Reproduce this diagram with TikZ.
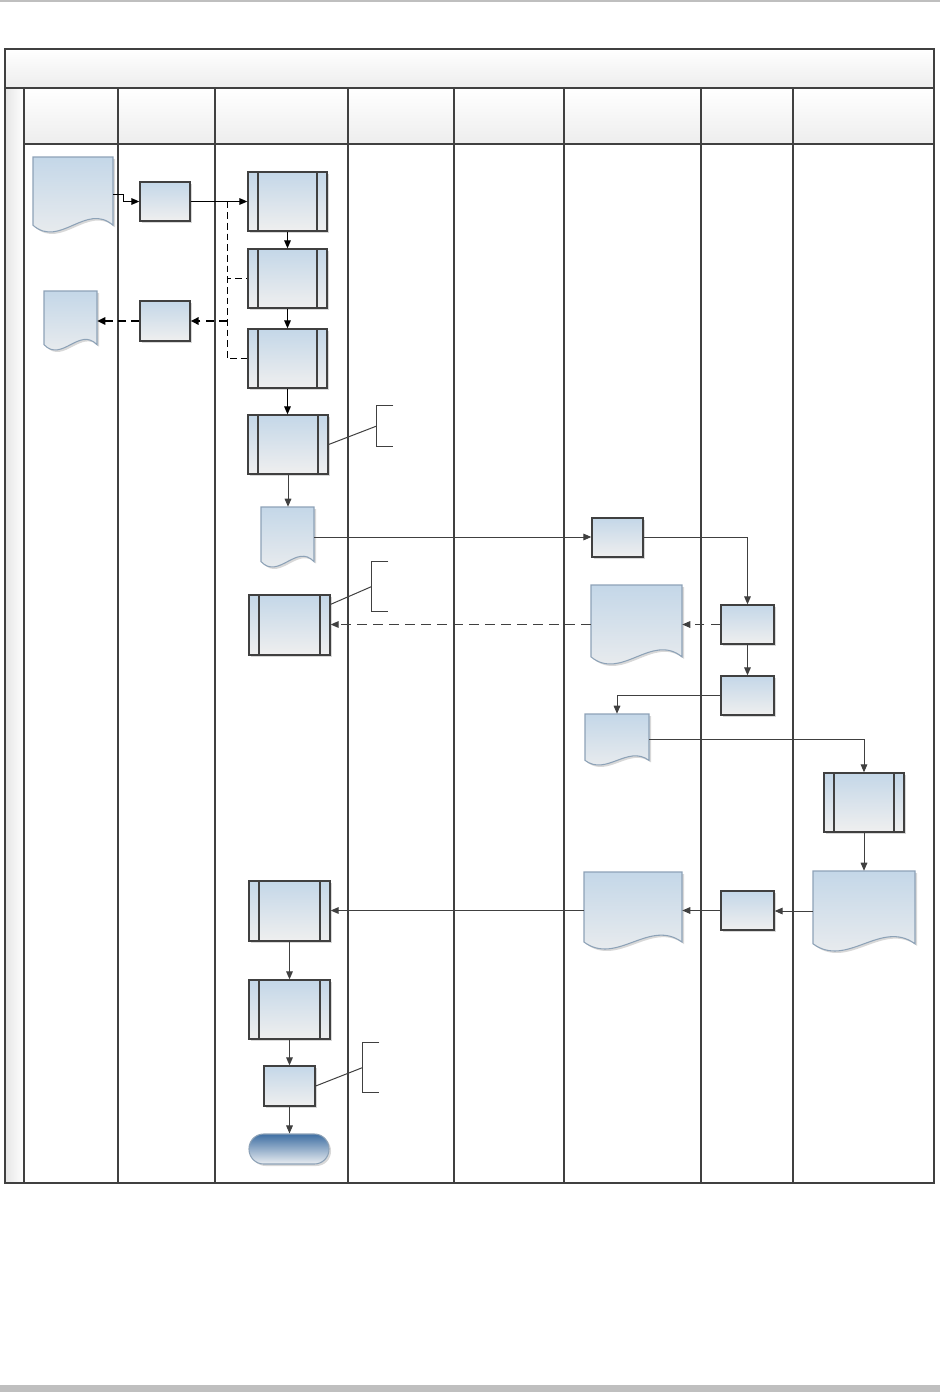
\documentclass[tikz,border=0pt]{standalone}
\usetikzlibrary{fit,calc,arrows.meta,shadows}
\definecolor{lnc}{HTML}{404040}
\definecolor{bTop}{HTML}{C4D7E8}
\definecolor{bBot}{HTML}{EFEFEF}
\definecolor{docLine}{HTML}{8DA2B7}
\definecolor{termTop}{HTML}{3F6FA3}
\definecolor{termBot}{HTML}{E9EDF1}
\definecolor{shd}{HTML}{D8D8D8}
\definecolor{barc}{HTML}{BFBFBF}
\newcommand\mkdoc[5]{%
  \pgfmathsetmacro\mkdW{#4-#2}%
  \pgfmathsetmacro\mkdA{0.09*(#5-#3)}%
  \pgfmathsetmacro\mkdB{#5-\mkdA}%
  \path[shift={(2,2)}, fill=shd] (#2,#3) -- (#4,#3) -- (#4,\mkdB)
     .. controls ({#4-\mkdW/3},{\mkdB-3.46*\mkdA}) and ({#2+\mkdW/3},{\mkdB+3.46*\mkdA}) .. (#2,\mkdB) -- cycle;
  \path[draw=docLine, line width=0.8pt, top color=bTop, bottom color=bBot] (#2,#3) -- (#4,#3) -- (#4,\mkdB)
     .. controls ({#4-\mkdW/3},{\mkdB-3.46*\mkdA}) and ({#2+\mkdW/3},{\mkdB+3.46*\mkdA}) .. (#2,\mkdB) -- cycle;
  \node[fit={(#2,#3)(#4,#5)}, inner sep=0pt] (#1) {};%
}
\tikzset{
  box/.style={draw=lnc, line width=1pt, inner sep=0pt, top color=bTop, bottom color=bBot,
    drop shadow={shadow xshift=1.5pt, shadow yshift=-1.5pt, fill=shd, opacity=1}},
  subproc/.style={box, path picture={\draw[lnc, line width=0.9pt]
     ([xshift=7.5pt]path picture bounding box.north west) -- ([xshift=7.5pt]path picture bounding box.south west)
     ([xshift=-7.5pt]path picture bounding box.north east) -- ([xshift=-7.5pt]path picture bounding box.south east);}},
  term/.style={draw=docLine, line width=0.8pt, inner sep=0pt, rounded corners=11pt, top color=termTop, bottom color=termBot,
    drop shadow={shadow xshift=1.5pt, shadow yshift=-1.5pt, fill=shd, opacity=1}},
  brk/.style={inner sep=0pt},
  conn/.style={draw=lnc, line width=0.75pt, -{Triangle[length=6pt,width=5pt]}},
  connk/.style={draw=black, line width=0.75pt, -{Triangle[length=6pt,width=5pt]}},
  thickdash/.style={draw=black, line width=1.5pt, dash pattern=on 6pt off 4pt, -{Triangle[length=6pt,width=5.5pt]}},
  thindash/.style={draw=black, line width=0.75pt, dash pattern=on 5pt off 3pt},
  grdash/.style={draw=lnc, line width=0.75pt, dash pattern=on 7pt off 5pt, -{Triangle[length=6pt,width=5pt]}},
  note/.style={draw=lnc, line width=0.75pt},
  lane/.style={draw=lnc, line width=0.9pt},
  pool/.style={draw=lnc, line width=1.1pt},
}
\begin{document}
\begin{tikzpicture}[x=0.75pt, y=-0.75pt]
\useasboundingbox (0,0) rectangle (940,1392);
% page decorations
\draw[barc, line width=0.8pt] (0,1) -- (940,1);
\fill[barc] (0,1385) rectangle (940,1392);
% pool
\shade[top color=white, bottom color=black!7] (5,49) rectangle (934,88);
\shade[top color=white, bottom color=black!7] (24,88) rectangle (934,144);
\shade[left color=black!10, right color=white] (5,88) rectangle (24,1183);
\foreach \x in {24,118,215,348,454,564,701,793} \draw[lane] (\x,88) -- (\x,1183);
\draw[lane] (24,144) -- (934,144);
\draw[pool] (5,88) -- (934,88);
\draw[pool] (5,49) rectangle (934,1183);

% lane 1 documents
\mkdoc{A}{33}{157}{113}{232}
\mkdoc{B}{44}{291}{97}{350}
% lane 2
\node[box, fit={(140,182)(190,221)}] (C) {};
\node[box, fit={(140,301)(190,341)}] (D) {};
% lane 3
\node[subproc, fit={(248,172)(327,231)}] (P1) {};
\node[subproc, fit={(248,249)(327,308)}] (P2) {};
\node[subproc, fit={(248,329)(327,388)}] (P3) {};
\node[subproc, fit={(248,415)(328,474)}] (P4) {};
\mkdoc{E}{261}{507}{314}{567}
\node[subproc, fit={(249,595)(330,655)}] (P5) {};
\node[subproc, fit={(249,881)(330,941)}] (P6) {};
\node[subproc, fit={(249,980)(330,1039)}] (P7) {};
\node[box, fit={(264,1066)(315,1106)}] (F) {};
\node[term, fit={(249,1134)(329,1164)}] (T) {};
% lane 6
\node[box, fit={(592,518)(643,557)}] (G) {};
\mkdoc{H}{591}{585}{682}{664}
\mkdoc{I}{585}{714}{649}{765}
\mkdoc{J}{584}{872}{682}{949}
% lane 7
\node[box, fit={(721,605)(774,644)}] (K) {};
\node[box, fit={(721,676)(774,715)}] (L) {};
\node[box, fit={(721,891)(774,930)}] (M) {};
% lane 8
\node[subproc, fit={(824,773)(904,832)}] (N) {};
\mkdoc{O}{813}{871}{915}{951}

% annotations
\node[brk, fit={(377,406)(393,446)}] (A1) {};
\node[brk, fit={(372,562)(388,611)}] (A2) {};
\node[brk, fit={(363,1043)(379,1092)}] (A3) {};
\draw[note] (A1.north east) -- (A1.north west) -- (A1.south west) -- (A1.south east);
\draw[note] (A2.north east) -- (A2.north west) -- (A2.south west) -- (A2.south east);
\draw[note] (A3.north east) -- (A3.north west) -- (A3.south west) -- (A3.south east);
\draw[note] (P4.east) -- (A1.west);
\draw[note] ($(P5.north east)+(0,10)$) -- (A2.west);
\draw[note] (F.east) -- (A3.west);

% connectors
\draw[connk] (A.east) -- ++(10,0) |- (C.west);
\draw[connk] (C.east) -- (P1.west);
\coordinate (j1) at (227,201.5);
\coordinate (j2) at (227,321);
\draw[thindash] (j1) |- (P2.west);
\draw[thindash] (j1) |- (P3.west);
\draw[thickdash] (j2) -- (D.east);
\draw[thickdash] (D.west) -- (B.east |- D.west);
\draw[connk] (P1.south) -- (P2.north);
\draw[connk] (P2.south) -- (P3.north);
\draw[connk] (P3.south) -- (P3.south |- P4.north);
\draw[conn] (P4.south) -- (P4.south |- E.north);
\draw[conn] (E.east) -- (E.east -| G.west);
\draw[conn] (G.east) -| (K.north);
\draw[grdash] (K.west) -- (H.east);
\draw[grdash] (H.west) -- (P5.east |- H.west);
\draw[conn] (K.south) -- (L.north);
\draw[conn] (L.west) -| (I.north);
\draw[conn] (I.east) -| (N.north);
\draw[conn] (N.south) -- (N.south |- O.north);
\draw[conn] (O.west) -- (M.east |- O.west);
\draw[conn] (M.west) -- (J.east |- M.west);
\draw[conn] (J.west) -- (P6.east |- J.west);
\draw[conn] (P6.south) -- (P7.north);
\draw[conn] (P7.south) -- (P7.south |- F.north);
\draw[conn] (F.south) -- (F.south |- T.north);
\end{tikzpicture}
\end{document}
